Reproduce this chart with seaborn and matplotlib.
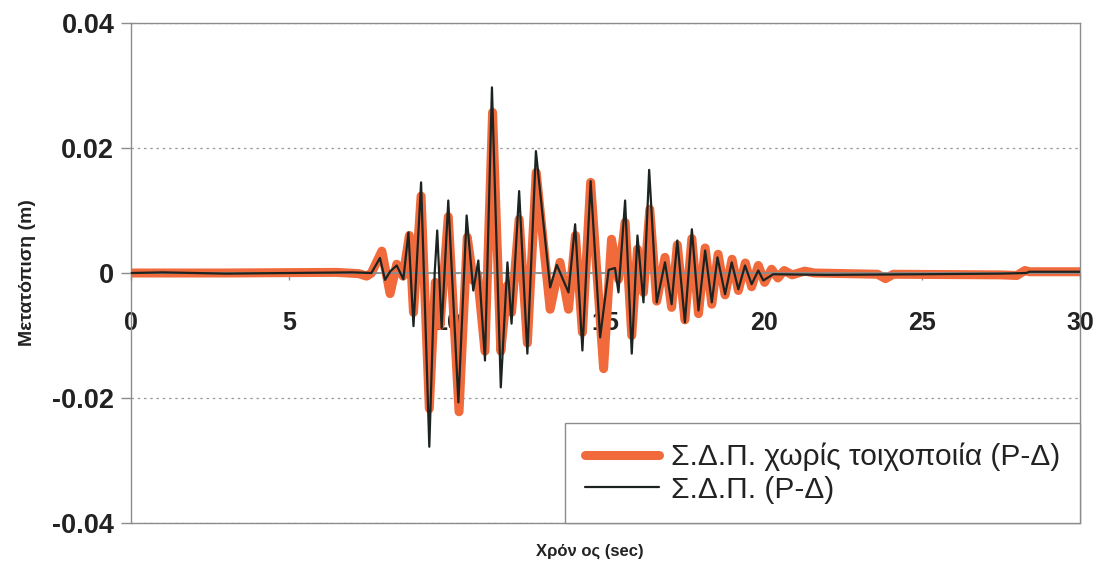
import matplotlib
matplotlib.use("Agg")
import matplotlib.pyplot as plt
import seaborn as sns
import numpy as np
import pandas as pd

# ---- data ----
t_black = [0.0, 1.0, 3.0, 5.0, 7.0, 7.6, 7.87, 8.03, 8.2, 8.40, 8.61, 8.77, 8.93, 9.17, 9.43,
           9.60, 9.68, 9.82, 10.03, 10.35, 10.61, 10.82, 10.98, 11.19, 11.41, 11.69, 11.90,
           12.03, 12.27, 12.53, 12.80, 13.25, 13.46, 13.83, 14.04, 14.27, 14.53, 14.83, 15.10,
           15.30, 15.41, 15.62, 15.83, 16.01, 16.20, 16.38, 16.62, 16.88, 17.09, 17.27, 17.51,
           17.73, 17.94, 18.15, 18.36, 18.54, 18.78, 18.99, 19.20, 19.41, 19.62, 19.83, 19.99,
           20.3, 22.0, 25.0, 27.5, 28.3, 28.4, 30.0]
v_black = [0.0, 0.0001, -0.0001, 0.0, 0.0001, 0.0, 0.0024, -0.0011, 0.0003, 0.0012, -0.0010,
           0.0065, -0.0085, 0.0145, -0.0278, 0.0000, 0.0068, -0.0088, 0.0116, -0.0207, 0.0092,
           -0.0028, 0.0020, -0.0140, 0.0297, -0.0183, 0.0017, -0.0081, 0.0131, -0.0129, 0.0195,
           -0.0023, 0.0013, -0.0031, 0.0078, -0.0124, 0.0147, -0.0103, 0.0005, 0.0008, -0.0031,
           0.0116, -0.0129, 0.0060, -0.0047, 0.0165, -0.0047, 0.0017, -0.0050, 0.0052, -0.0079,
           0.0070, -0.0060, 0.0036, -0.0047, 0.0025, -0.0034, 0.0017, -0.0026, 0.0012, -0.0018,
           0.0004, -0.0012, -0.0002, -0.0003, -0.0002, -0.0001, 0.0, 0.0002, 0.0002]

t_orange = [0.0, 3.0, 6.5, 7.2, 7.45, 7.6, 7.93, 8.19, 8.40, 8.60, 8.80, 8.93, 9.17, 9.43, 9.62,
            9.77, 10.03, 10.37, 10.63, 10.82, 10.95, 11.19, 11.43, 11.69, 11.90, 12.03, 12.27,
            12.53, 12.81, 13.25, 13.56, 13.83, 14.05, 14.27, 14.53, 14.94, 15.19, 15.41, 15.62,
            15.83, 16.01, 16.20, 16.40, 16.62, 16.88, 17.09, 17.27, 17.51, 17.73, 17.94, 18.15,
            18.36, 18.56, 18.78, 19.00, 19.20, 19.42, 19.62, 19.83, 20.03, 20.25, 20.45, 20.65,
            20.90, 21.3, 21.6, 23.6, 23.85, 24.1, 27.5, 28.0, 28.26, 28.4, 30.0]
v_orange = [0.0, 0.0, 0.0001, -0.0001, -0.0005, 0.0, 0.0035, -0.0033, 0.0014, -0.0005, 0.0060,
            -0.0063, 0.0123, -0.0217, -0.0015, -0.0084, 0.0090, -0.0222, 0.0057, -0.0012,
            -0.0002, -0.0125, 0.0257, -0.0125, -0.0020, -0.0063, 0.0086, -0.0112, 0.0161,
            -0.0058, 0.0017, -0.0058, 0.0060, -0.0095, 0.0145, -0.0153, 0.0054, -0.0010, 0.0081,
            -0.0100, 0.0038, -0.0031, 0.0102, -0.0045, 0.0025, -0.0055, 0.0045, -0.0075, 0.0055,
            -0.0065, 0.0040, -0.0050, 0.0030, -0.0035, 0.0022, -0.0028, 0.0016, -0.0022, 0.0012,
            -0.0015, 0.0006, -0.0008, 0.0004, -0.0003, 0.0003, 0.0, -0.0002, -0.0009, -0.0002,
            -0.0003, -0.0004, 0.0004, 0.0002, 0.0002]

x_ticks = [0, 5, 10, 15, 20, 25, 30]
y_ticks = [-0.04, -0.02, 0, 0.02, 0.04]
y_tick_labels = ["-0.04", "-0.02", "0", "0.02", "0.04"]
label_orange = "Σ.Δ.Π. χωρίς τοιχοποιία (P-Δ)"
label_black = "Σ.Δ.Π. (P-Δ)"

df_o = pd.DataFrame({"t": t_orange, "v": v_orange})
df_b = pd.DataFrame({"t": t_black, "v": v_black})

sns.set_theme(style="white")
plt.rcParams["font.family"] = ["Liberation Sans", "DejaVu Sans"]

fig = plt.figure(figsize=(10.98, 5.67), dpi=100)
ax = fig.add_axes([131/1098, 1 - 523/567, (1080-131)/1098, (523-23)/567])

ORANGE = "#f06a3b"
BLACK = "#1c2320"

sns.lineplot(data=df_o, x="t", y="v", ax=ax, color=ORANGE, lw=6.5, sort=False,
             estimator=None, label=label_orange, zorder=2)
sns.lineplot(data=df_b, x="t", y="v", ax=ax, color=BLACK, lw=1.6, sort=False,
             estimator=None, label=label_black, zorder=3)

ax.set_xlim(0, 30)
ax.set_ylim(-0.04, 0.04)

for s in ["top", "right", "left"]:
    ax.spines[s].set_visible(True)
    ax.spines[s].set_color("#8c8c8c")
    ax.spines[s].set_linewidth(1.0)
ax.spines["bottom"].set_position(("data", 0))
ax.spines["bottom"].set_color("#8c8c8c")
ax.spines["bottom"].set_linewidth(1.3)
ax.spines["bottom"].set_zorder(2.5)
ax.plot([0, 30], [-0.04, -0.04], color="#8c8c8c", lw=1.0, clip_on=False, zorder=1)

ax.set_yticks(y_ticks)
ax.set_yticklabels(y_tick_labels)
ax.set_xticks(x_ticks)
ax.set_xticklabels([str(v) for v in x_ticks])
ax.tick_params(axis="y", direction="out", length=7, width=1, color="#8c8c8c",
               labelsize=19.5, pad=5, left=True)
ax.tick_params(axis="x", direction="out", length=5, width=1, color="#8c8c8c",
               labelsize=18, pad=22, bottom=True)
for lab in ax.get_xticklabels() + ax.get_yticklabels():
    lab.set_fontweight("bold")
    lab.set_color("#222222")

ax.yaxis.grid(True, color="#9a9a9a", linestyle=(0, (2, 3)), linewidth=0.9)
ax.xaxis.grid(False)

ax.set_ylabel("Μετατόπιση (m)", fontsize=14, fontweight="bold", color="#222222", labelpad=12)
ax.set_xlabel("")
fig.text(590/1098, 1 - 551/567, "Χρόν ος (sec)", fontsize=12, fontweight="bold",
         color="#222222", ha="center", va="center")

leg = ax.legend(loc="lower right", bbox_to_anchor=(1.0, 0.0), borderaxespad=0,
                fontsize=21.5, frameon=True, fancybox=False, handlelength=2.5,
                handletextpad=0.4, labelspacing=0.15, borderpad=0.65)
leg.get_frame().set_edgecolor("#8c8c8c")
leg.get_frame().set_linewidth(1.0)
leg.get_frame().set_alpha(1)
for txt in leg.get_texts():
    txt.set_color("#222222")

fig.savefig("out.png", dpi=100, facecolor="white")
